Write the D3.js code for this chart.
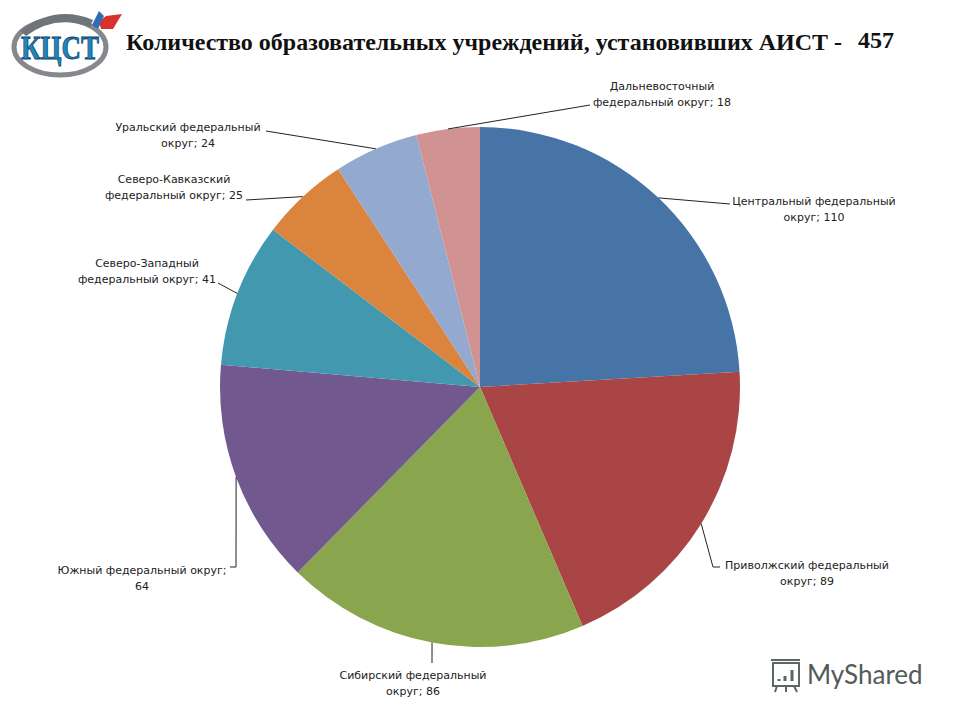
<!DOCTYPE html>
<html>
<head>
<meta charset="utf-8">
<script src="https://cdn.jsdelivr.net/npm/d3@7"></script>
<style>
  html, body { margin: 0; background: #fff; }
  svg { display: block; }
  .lbl { font-family: "DejaVu Sans", sans-serif; font-size: 11px; fill: #222; text-anchor: middle; }
  .leader { fill: none; stroke: #222; stroke-width: 1; }
</style>
</head>
<body>
<svg id="chart" width="960" height="720"></svg>
<script>
const districts = [
  "Центральный федеральный округ",
  "Приволжский федеральный округ",
  "Сибирский федеральный округ",
  "Южный федеральный округ",
  "Северо-Западный федеральный округ",
  "Северо-Кавказский федеральный округ",
  "Уральский федеральный округ",
  "Дальневосточный федеральный округ"
];
const counts = [110, 89, 86, 64, 41, 25, 24, 18];
const sliceColors = ["#4674a6", "#a94645", "#89a54e", "#71588f", "#4198af", "#db843d", "#93a9cf", "#d09392"];

// label text lines, split the way the picture wraps them
const labelLines = [
  ["Центральный федеральный", "округ; 110"],
  ["Приволжский федеральный", "округ; 89"],
  ["Сибирский федеральный", "округ; 86"],
  ["Южный федеральный округ;", "64"],
  ["Северо-Западный", "федеральный округ; 41"],
  ["Северо-Кавказский", "федеральный округ; 25"],
  ["Уральский федеральный", "округ; 24"],
  ["Дальневосточный", "федеральный округ; 18"]
];
// label centre x, first baseline y, then the leader bends after it leaves the pie
const labelPos = [[814, 205], [807, 569], [413, 679], [142, 574], [147, 267], [174, 183], [188, 131], [662, 90]];
const leaderBends = [
  [[730, 204]],
  [[713, 567], [720, 567]],
  [[432, 663]],
  [[236, 567], [230, 567]],
  [[218, 283]],
  [[246, 200]],
  [[266, 131]],
  [[590, 105]]
];

const svg = d3.select("#chart");
const cx = 480, cy = 387, radius = 260;

// title
svg.append("text")
  .attr("x", 126).attr("y", 50)
  .style("font", "bold 24px 'Liberation Serif', serif").style("fill", "#111")
  .attr("textLength", 716).attr("lengthAdjust", "spacingAndGlyphs")
  .text("Количество образовательных учреждений, установивших АИСТ -");
svg.append("text")
  .attr("x", 858).attr("y", 48)
  .style("font", "bold 24px 'Liberation Serif', serif").style("fill", "#111")
  .text("457");

// pie
const pie = d3.pie().sort(null)(counts);
const arc = d3.arc().innerRadius(0).outerRadius(radius);
const g = svg.append("g").attr("transform", `translate(${cx},${cy})`);
g.selectAll("path.slice")
  .data(pie)
  .join("path")
  .attr("class", "slice")
  .attr("d", arc)
  .attr("fill", (d, i) => sliceColors[i]);

// leaders start on the rim at each slice's middle angle
const rimPoint = d => {
  const a = (d.startAngle + d.endAngle) / 2;
  return [cx + radius * Math.sin(a), cy - radius * Math.cos(a)];
};
svg.selectAll("path.leader")
  .data(pie)
  .join("path")
  .attr("class", "leader")
  .attr("d", (d, i) => d3.line()([rimPoint(d), ...leaderBends[i]]));

const labels = svg.selectAll("text.lbl")
  .data(labelLines)
  .join("text")
  .attr("class", "lbl")
  .attr("transform", (d, i) => `translate(${labelPos[i][0]},${labelPos[i][1]})`);
labels.selectAll("tspan")
  .data(d => d)
  .join("tspan")
  .attr("x", 0)
  .attr("y", (d, i) => i * 16.3)
  .text(d => d);

// logo, top left
const logo = svg.append("g");
logo.append("ellipse").attr("cx", 60).attr("cy", 47).attr("rx", 46).attr("ry", 28)
  .attr("fill", "#fff").attr("stroke", "#85888c").attr("stroke-width", 5);
logo.append("path").attr("d", "M20 31 Q55 4 93 20 L90 27 Q55 14 26 36 Z").attr("fill", "#6f7478");
logo.append("path").attr("d", "M99 22 L106 16 L122 14 L113 29 L101 29 Z").attr("fill", "#d8322c");
logo.append("path").attr("d", "M92 25 L99 11 L104 16 L98 29 Z").attr("fill", "#2f6db5");
logo.append("text").attr("x", 60).attr("y", 59).attr("text-anchor", "middle")
  .style("font", "bold 33px 'Liberation Serif', serif")
  .attr("textLength", 78).attr("lengthAdjust", "spacingAndGlyphs")
  .attr("fill", "#1d86bd").attr("stroke", "#123f66").attr("stroke-width", 0.8)
  .text("КЦСТ");

// watermark, bottom right
const mark = svg.append("g").attr("stroke", "#5d6664").attr("fill", "none").attr("stroke-width", 2);
mark.append("path").attr("d", "M773 663 H799 V686 H773 Z M771 660 H800 M777 686 L775 692 M786 686 V692 M794 686 L797 692");
mark.append("path").attr("d", "M779 681 V679 M785 681 V676 M792 681 V670").attr("stroke-width", 3);
svg.append("text")
  .attr("x", 807).attr("y", 684)
  .style("font", "26px Lato, sans-serif").style("fill", "#525b59")
  .text("MyShared");
</script>
</body>
</html>
